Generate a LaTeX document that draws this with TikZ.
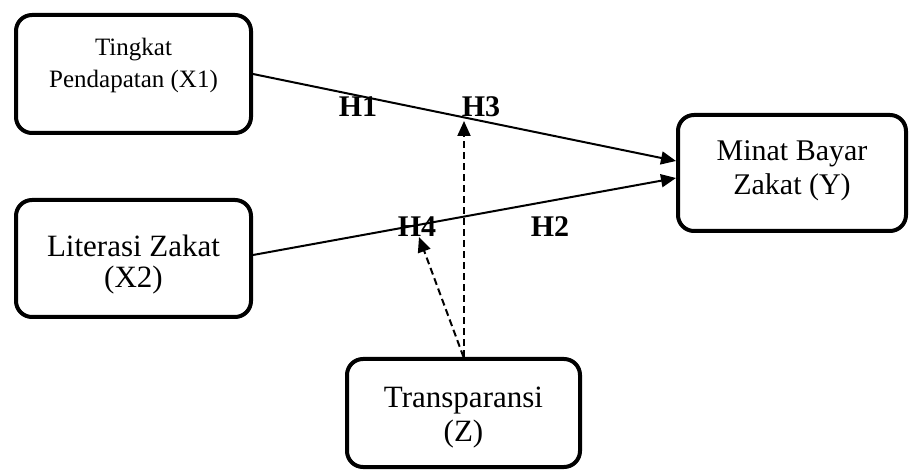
\documentclass[tikz,border=0pt]{standalone}
\usepackage{fontspec}
\setmainfont{Liberation Serif}
\usetikzlibrary{arrows.meta}
\begin{document}
\begin{tikzpicture}[x=1pt,y=-1pt,
  box/.style={draw, line width=4pt, rounded corners=16pt, inner sep=0pt},
  txt/.style={align=center, inner sep=0pt},
  hyp/.style={font=\fontsize{30}{32}\selectfont\bfseries, inner sep=0pt},
  conn/.style={line width=2pt, -{Triangle[length=15pt,width=13pt]}},
  dconn/.style={conn, dash pattern=on 7pt off 4pt}]
\useasboundingbox (0,0) rectangle (911,470);
% boxes
\node[box, minimum width=235pt, minimum height=118pt] (X1) at (133.5,74) {};
\node[box, minimum width=235pt, minimum height=117pt] (X2) at (133.5,258.5) {};
\node[box, minimum width=228pt, minimum height=116pt] (Y) at (792,173) {};
\node[box, minimum width=233pt, minimum height=108pt] (Z) at (463.5,413) {};
% box texts
\node[txt, font=\fontsize{25}{32}\selectfont] (X1t) at ([yshift=9pt]X1.center) {Tingkat\\Pendapatan (X1)};
\node[txt, font=\fontsize{31}{31}\selectfont] (X2t) at ([yshift=-6.5pt]X2.center) {Literasi Zakat\\(X2)};
\node[txt, font=\fontsize{30}{34}\selectfont] (Yt) at ([yshift=2pt]Y.center) {Minat Bayar\\Zakat (Y)};
\node[txt, font=\fontsize{31}{34}\selectfont] (Zt) at ([yshift=-5pt]Z.center) {Transparansi\\(Z)};
% connectors
\coordinate (h3) at (464,121);
\coordinate (h4) at (419,237);
\draw[conn] (X1.east) -- ([yshift=12pt]Y.west);
\draw[conn] ([yshift=3.5pt]X2.east) -- ([yshift=-5pt]Y.west);
\draw[dconn] ([xshift=0.5pt]Z.north) -- (h3);
\draw[dconn] (Z.north) -- (h4);
% hypothesis labels
\node[hyp] (H1) at (358,107) {H1};
\node[hyp] (H3) at (481,107) {H3};
\node[hyp] (H4) at (417,227) {H4};
\node[hyp] (H2) at (550,227) {H2};
\end{tikzpicture}
\end{document}
